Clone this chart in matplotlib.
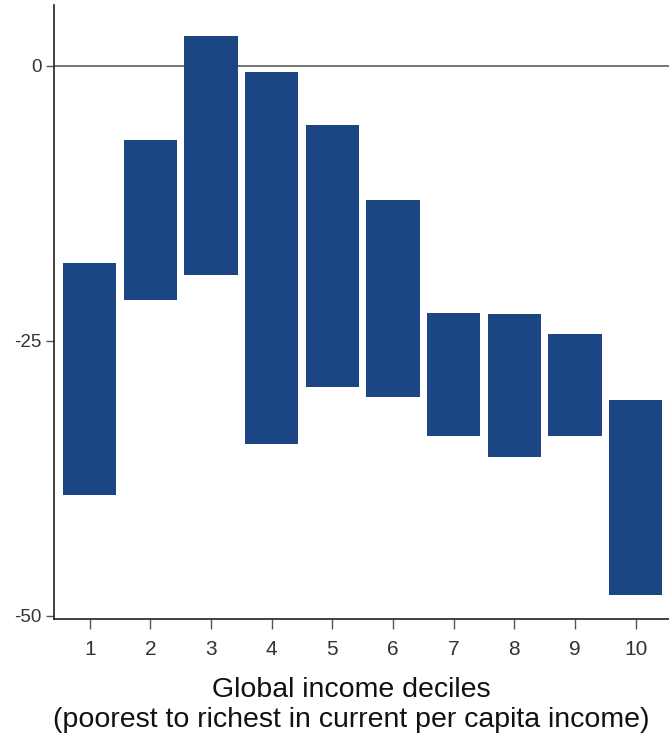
import matplotlib
matplotlib.use("Agg")
import matplotlib.pyplot as plt

plt.rcParams['font.family'] = ['Liberation Sans', 'DejaVu Sans']

# Decile positions and the lower / upper ends of each floating bar
deciles = [1, 2, 3, 4, 5, 6, 7, 8, 9, 10]
upper = [-17.9, -6.8, 2.7, -0.6, -5.4, -12.2, -22.5, -22.6, -24.4, -30.4]
lower = [-39.0, -21.3, -19.0, -34.4, -29.2, -30.1, -33.7, -35.6, -33.7, -48.1]
tick_labels = [str(d) for d in deciles]
y_ticks = [0, -25, -50]

bar_color = "#1b4583"

fig = plt.figure(figsize=(6.69, 7.40), dpi=100)
ax = fig.add_axes([0.0807, 0.1635, 0.9193, 0.8297])

heights = [u - l for u, l in zip(upper, lower)]
ax.bar(deciles, heights, bottom=lower, width=0.88, color=bar_color,
       edgecolor="none", zorder=2)
ax.axhline(0, color="#6a6a6a", linewidth=1.3, zorder=1)

ax.set_xlim(0.41, 10.55)
ax.set_ylim(-50.3, 5.5)
ax.set_xticks(deciles)
ax.set_xticklabels(tick_labels)
ax.set_yticks(y_ticks)
ax.set_yticklabels([str(v) for v in y_ticks])

for side in ("top", "right"):
    ax.spines[side].set_visible(False)
for side in ("left", "bottom"):
    ax.spines[side].set_color("#222222")
    ax.spines[side].set_linewidth(1.2)

ax.tick_params(axis="x", length=7, width=1.0, colors="#555555",
               labelsize=15, labelcolor="#333333", pad=8)
ax.tick_params(axis="y", length=6, width=1.0, colors="#555555",
               labelsize=13.5, labelcolor="#333333", pad=3)

ax.set_xlabel("Global income deciles\n(poorest to richest in current per capita income)",
              fontsize=20.5, color="#111111", linespacing=1.2)
ax.xaxis.label.set_verticalalignment("top")
ax.xaxis.set_label_coords(0.483, -0.095)

fig.savefig("out.png", dpi=100)
